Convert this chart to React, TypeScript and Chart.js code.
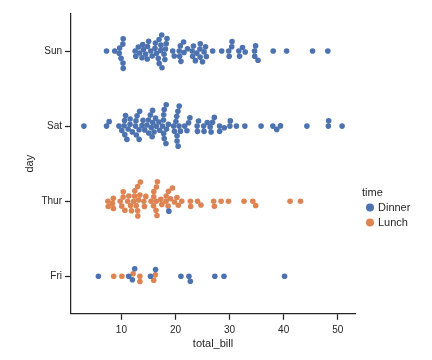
import React, { useEffect, useRef } from 'react';
import { Chart, registerables } from 'chart.js';

Chart.register(...registerables);

// ---------- data (tips dataset: total_bill by day and time) ----------
const days = ['Sun', 'Sat', 'Thur', 'Fri'];
const times = ['Dinner', 'Lunch'];
const timeColors = ['#4c72b0', '#dd8452'];
const xTickValues = [10, 20, 30, 40, 50];

const sunDinner = [
  16.99, 10.34, 21.01, 23.68, 24.59, 25.29, 8.77, 26.88, 15.04, 14.78, 10.27, 35.26, 15.42, 18.43, 14.83, 21.58, 10.33, 16.29, 16.97,
  17.46, 13.94, 9.68, 30.4, 18.29, 22.23, 32.4, 28.55, 18.04, 12.54, 10.29, 34.81, 9.94, 25.56, 19.49,
  38.07, 23.95, 25.71, 17.31, 29.93,
  14.07, 13.13, 17.26, 24.55, 19.77, 29.85, 48.17, 25.0, 13.39, 16.49, 21.5, 12.66, 16.21, 13.81, 17.51, 24.52, 20.76, 31.71,
  7.25, 31.85, 16.82, 32.9, 17.89, 14.48, 9.6, 34.63, 34.65, 23.33, 45.35, 23.17, 40.55, 20.69, 20.9, 30.46, 18.15, 23.1, 15.69,
];
const satDinner = [
  20.65, 17.92, 20.29, 15.77, 39.42, 19.82, 17.81, 13.37, 12.69, 21.7, 19.65, 9.55, 18.35, 15.06, 20.69, 17.78, 24.06, 16.31, 16.93, 18.69, 31.27, 16.04,
  38.01, 26.41, 11.24, 48.27, 20.29, 13.81, 11.02, 18.29, 17.59, 20.08, 16.45, 3.07, 20.23, 15.01, 12.02, 17.07, 26.86, 25.28, 14.73, 10.51, 17.92,
  44.3, 22.42, 20.92, 15.36, 20.49, 25.21, 18.24, 14.31, 14.0, 7.25,
  10.59, 10.63, 50.81, 15.81,
  26.59, 38.73, 24.27, 12.76, 30.06, 25.89, 48.33, 13.27, 28.17, 12.9, 28.15, 11.59, 7.74, 30.14,
  20.45, 13.28, 22.12, 24.01, 15.69, 11.61, 10.77, 15.53, 10.07, 12.6, 32.83, 35.83, 29.03, 27.18, 22.67, 17.82,
];
const thurLunch = [
  27.2, 22.76, 17.29, 19.44, 16.66, 10.07, 32.68, 15.98, 34.83, 13.03, 18.28, 24.71, 21.16,
  10.65, 12.43, 24.08, 11.69, 13.42, 14.26, 15.95, 12.48, 29.8, 8.52, 14.52, 11.38, 22.82, 19.08, 20.27, 11.17, 12.26, 18.26, 8.51,
  10.33, 14.15, 16.0, 13.16, 17.47, 34.3, 41.19, 27.05, 16.43, 8.35, 18.64, 11.87, 9.78, 7.51,
  19.81, 28.44, 15.48, 16.58, 7.56, 10.34, 43.11, 13.0, 13.51, 18.71, 12.74, 13.0, 16.4, 20.53, 16.47,
];
const thurDinner = [18.78];
const friDinner = [28.97, 22.49, 5.75, 16.32, 22.75, 40.17, 27.28, 12.03, 21.01, 12.46, 11.35, 15.38];
const friLunch = [12.16, 13.42, 8.58, 15.98, 13.42, 16.27, 10.09];

// [dayIndex, timeIndex, values]
const groups: [number, number, number[]][] = [
  [0, 0, sunDinner],
  [1, 0, satDinner],
  [2, 1, thurLunch],
  [2, 0, thurDinner],
  [3, 0, friDinner],
  [3, 1, friLunch],
];

type Rec = { day: number; time: number; v: number; y: number };

// seaborn-style beeswarm (positions in display coords, y-up)
function beeswarm(vals: number[], mid: number, r: number): number[] {
  const order = vals.map((v, i) => i).sort((a, b) => vals[a] - vals[b]);
  const out = new Array(vals.length).fill(mid);
  const swarm: { p: number; v: number }[] = [];
  order.forEach((idx, k) => {
    const v = vals[idx];
    if (k === 0) {
      swarm.push({ p: mid, v });
      out[idx] = mid;
      return;
    }
    const nb: { p: number; v: number }[] = [];
    for (let j = swarm.length - 1; j >= 0; j--) {
      if (v - swarm[j].v < 2 * r) nb.unshift(swarm[j]);
      else break;
    }
    const cands: number[] = [mid];
    let leftFirst = true;
    for (const n of nb) {
      const dy = v - n.v;
      const dx = Math.sqrt(Math.max(4 * r * r - dy * dy, 0)) * 1.05;
      const cl = n.p - dx;
      const cr = n.p + dx;
      if (leftFirst) cands.push(cl, cr);
      else cands.push(cr, cl);
      leftFirst = !leftFirst;
    }
    const sorted = cands
      .map((c, i) => ({ c, i }))
      .sort((a, b) => Math.abs(a.c - mid) - Math.abs(b.c - mid) || a.i - b.i)
      .map((o) => o.c);
    let chosen = sorted[0];
    if (nb.length) {
      for (const c of sorted) {
        const ok = nb.every((n) => (n.p - c) ** 2 + (n.v - v) ** 2 >= 4 * r * r - 1e-9);
        if (ok) {
          chosen = c;
          break;
        }
      }
    }
    swarm.push({ p: chosen, v });
    out[idx] = chosen;
  });
  return out;
}

export default function App() {
  const ref = useRef<HTMLCanvasElement>(null);

  useEffect(() => {
    document.body.style.margin = '0';
    const FONT = "'Liberation Sans', Arial, sans-serif";
    const TEXT = '#262626';

    const records: Rec[] = [];
    groups.forEach(([day, time, vals]) => vals.forEach((v) => records.push({ day, time, v, y: day })));
    const all = records.map((r) => r.v);
    const lo = Math.min(...all);
    const hi = Math.max(...all);
    const pad = (hi - lo) * 0.05;

    const legendPlugin = {
      id: 'sideLegend',
      afterDraw(chart: any) {
        const ctx = chart.ctx;
        const x0 = chart.chartArea.right + 7;
        const yTitle = 192.5;
        ctx.save();
        ctx.fillStyle = TEXT;
        ctx.textBaseline = 'middle';
        ctx.textAlign = 'left';
        ctx.font = `11px ${FONT}`;
        ctx.fillText('time', x0, yTitle);
        times.forEach((t, i) => {
          const yy = yTitle + 15 * (i + 1);
          ctx.beginPath();
          ctx.arc(x0 + 8, yy, 4, 0, Math.PI * 2);
          ctx.fillStyle = timeColors[i];
          ctx.fill();
          ctx.fillStyle = TEXT;
          ctx.fillText(t, x0 + 16, yy);
        });
        ctx.restore();
      },
    };

    const chart = new Chart(ref.current!, {
      type: 'scatter',
      data: {
        datasets: times.map((t, i) => ({
          label: t,
          data: records.filter((r) => r.time === i).map((r) => ({ x: r.v, y: r.y })),
          backgroundColor: timeColors[i],
          borderWidth: 0,
          pointRadius: 2.8,
          pointHoverRadius: 2.8,
        })),
      },
      options: {
        responsive: false,
        animation: false,
        events: [],
        layout: { padding: { left: 19, right: 77, top: 13.5, bottom: 5 } },
        plugins: { legend: { display: false }, tooltip: { enabled: false } },
        scales: {
          x: {
            type: 'linear',
            min: lo - pad,
            max: hi + pad,
            afterBuildTicks: (s: any) => {
              s.ticks = xTickValues.map((value) => ({ value }));
            },
            afterFit: (s: any) => {
              s.height = 360 - 5 - 313.8;
            },
            grid: { drawOnChartArea: false, drawTicks: true, tickLength: 6, tickWidth: 1.25, color: TEXT },
            border: { display: true, color: TEXT, width: 1.25 },
            ticks: { color: TEXT, font: { family: FONT, size: 10 }, padding: 4, maxRotation: 0 },
            title: { display: true, text: 'total_bill', color: TEXT, font: { family: FONT, size: 11 } },
          },
          y: {
            type: 'linear',
            reverse: true,
            min: -0.5,
            max: days.length - 0.5,
            afterBuildTicks: (s: any) => {
              s.ticks = days.map((d, i) => ({ value: i }));
            },
            afterFit: (s: any) => {
              s.width = 71 - 19;
            },
            grid: { drawOnChartArea: false, drawTicks: true, tickLength: 6, tickWidth: 1.25, color: TEXT },
            border: { display: true, color: TEXT, width: 1.25 },
            ticks: {
              color: TEXT,
              font: { family: FONT, size: 10 },
              padding: 3,
              callback: (v: any) => days[Math.round(Number(v))] ?? '',
            },
            title: { display: true, text: 'day', color: TEXT, font: { family: FONT, size: 11 } },
          },
        },
      },
      plugins: [legendPlugin],
    });

    // compute swarm offsets through the chart's own scales
    const xs: any = chart.scales.x;
    const ys: any = chart.scales.y;
    const R = 2.5;
    days.forEach((_, d) => {
      const recs = records.filter((r) => r.day === d);
      const px = recs.map((r) => xs.getPixelForValue(r.v));
      const mid = -ys.getPixelForValue(d);
      const pos = beeswarm(px, mid, R);
      recs.forEach((r, k) => {
        r.y = ys.getValueForPixel(-pos[k]);
      });
    });
    times.forEach((_, i) => {
      chart.data.datasets[i].data = records.filter((r) => r.time === i).map((r) => ({ x: r.v, y: r.y })) as any;
    });
    chart.update('none');

    return () => chart.destroy();
  }, []);

  return (
    <div style={{ width: 432, height: 360 }}>
      <canvas ref={ref} width={432} height={360} style={{ display: 'block' }} />
    </div>
  );
}
